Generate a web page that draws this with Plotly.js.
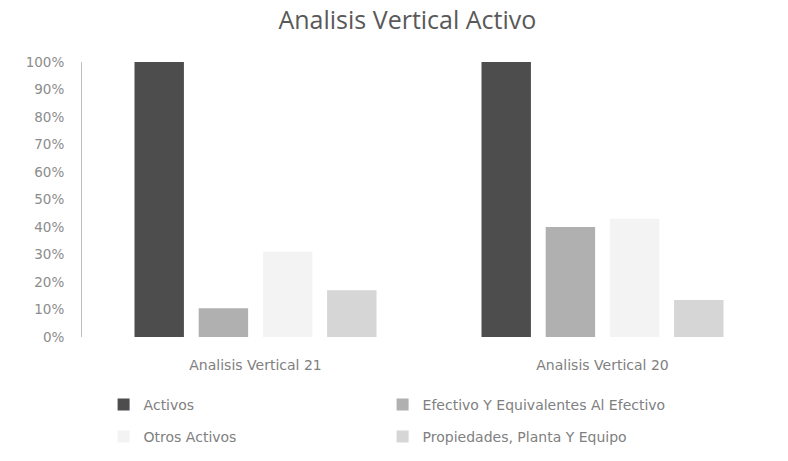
<!DOCTYPE html>
<html>
<head>
<meta charset="utf-8">
<script src="https://cdn.plot.ly/plotly-3.0.1.min.js"></script>
<style>html,body{margin:0;padding:0;background:#fff;}#chart{width:788px;height:461px;}</style>
</head>
<body>
<div id="chart"></div>
<script>
var categories = ["Analisis Vertical 21", "Analisis Vertical 20"];
var seriesNames = ["Activos", "Efectivo Y Equivalentes Al Efectivo", "Otros Activos", "Propiedades, Planta Y Equipo"];
var activos = [1.00, 1.00];
var efectivo = [0.105, 0.40];
var otros = [0.31, 0.43];
var propiedades = [0.17, 0.135];
var seriesColors = ["#4d4d4d", "#b0b0b0", "#f3f3f3", "#d6d6d6"];
var legendIds = ["legend", "legend2", "legend3", "legend4"];

var values = [activos, efectivo, otros, propiedades];
var traces = values.map(function (v, i) {
  return {
    type: "bar",
    name: seriesNames[i],
    x: categories,
    y: v,
    legend: legendIds[i],
    marker: { color: seriesColors[i], line: { width: 0 } },
    hoverinfo: "skip"
  };
});

var legendFont = { family: "DejaVu Sans, sans-serif", size: 14, color: "#808080" };
function legendAt(xPx, yPx) {
  return {
    orientation: "h",
    xref: "container", yref: "container",
    x: xPx / 788, xanchor: "left",
    y: 1 - yPx / 461, yanchor: "middle",
    font: legendFont,
    itemwidth: 30,
    bgcolor: "rgba(0,0,0,0)"
  };
}

var layout = {
  width: 788,
  height: 461,
  paper_bgcolor: "#ffffff",
  plot_bgcolor: "#ffffff",
  font: { family: "DejaVu Sans, sans-serif", color: "#808080", size: 12 },
  title: {
    text: "Analisis Vertical Activo",
    font: { family: "Open Sans, Noto Sans, sans-serif", size: 25, color: "#595959" },
    x: 0.517, xanchor: "center", y: 0.955, yanchor: "middle"
  },
  margin: { l: 82, r: 12, t: 62, b: 124 },
  barmode: "group",
  bargap: 0.26,
  bargroupgap: 0.23,
  showlegend: true,
  legend: legendAt(103.6, 405),
  legend2: legendAt(382.6, 405),
  legend3: legendAt(103.6, 437),
  legend4: legendAt(382.6, 437),
  xaxis: {
    type: "category",
    showline: false,
    showgrid: false,
    ticks: "",
    ticklabelstandoff: 18,
    tickfont: { family: "DejaVu Sans, sans-serif", size: 14, color: "#808080" }
  },
  yaxis: {
    range: [0, 1.0],
    dtick: 0.1,
    tickformat: ".0%",
    showgrid: false,
    zeroline: false,
    showline: true,
    linecolor: "#bdbdbd",
    linewidth: 1,
    ticks: "",
    ticklabelstandoff: 14,
    tickfont: { family: "DejaVu Sans, sans-serif", size: 13.5, color: "#8c8c8c" }
  }
};

Plotly.newPlot("chart", traces, layout, { displayModeBar: false, staticPlot: true });
</script>
</body>
</html>
